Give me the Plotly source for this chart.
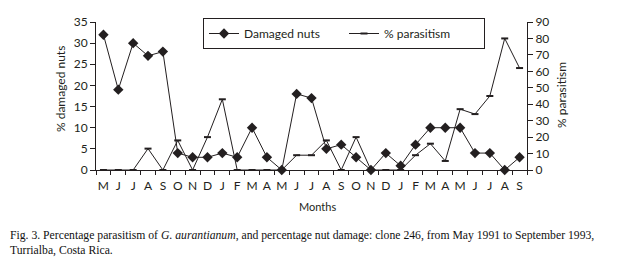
import plotly.graph_objects as go

months = ["M","J","J","A","S","O","N","D",
          "J","F","M","A","M","J","J","A","S","O","N","D",
          "J","F","M","A","M","J","J","A","S"]
damaged_nuts = [32,19,30,27,28,4,3,3,4,3,10,3,0,18,17,5,6,3,0,4,1,6,10,10,10,4,4,0,3]
parasitism = [0,0,0,13,0,18,0,20,43,0,0,0,0,9,9,18,0,20,0,0,0,9,16,5.5,37,34,45,80,62]

x_idx = list(range(len(months)))

W, H = 620, 261
OFF = 8  # page body margin shifts the figure by 8px
L, R, T, B = 96 - OFF, 527 - OFF, 22 - OFF, 170 - OFF
def px(xp): return (xp - OFF - L) / (R - L)
def py(yp): return (B - (yp - OFF)) / (B - T)

INK = "#231f20"
FONT = "Lato"

fig = go.Figure()
fig.add_trace(go.Scatter(
    x=x_idx, y=damaged_nuts, name="Damaged nuts", mode="lines+markers",
    line=dict(color=INK, width=1),
    marker=dict(symbol="diamond", size=8, color=INK),
    cliponaxis=False, xaxis="x", yaxis="y"))
fig.add_trace(go.Scatter(
    x=x_idx, y=parasitism, name="% parasitism", mode="lines+markers",
    line=dict(color=INK, width=1),
    marker=dict(symbol="line-ew", size=5, color=INK, line=dict(color=INK, width=2)),
    cliponaxis=False, xaxis="x", yaxis="y2"))

fig.update_layout(
    width=W, height=H,
    margin=dict(l=L, r=W - R, t=T, b=H - B, pad=0, autoexpand=False),
    paper_bgcolor="white", plot_bgcolor="white",
    font=dict(family=FONT, size=12, color=INK),
    showlegend=True,
    legend=dict(orientation="h", xref="container", yref="container",
                x=(203 - OFF) / W, y=1 - (18 - OFF) / H,
                xanchor="left", yanchor="top",
                bordercolor=INK, borderwidth=1, font=dict(size=12, family=FONT),
                entrywidth=95, entrywidthmode="pixels", itemwidth=30,
                bgcolor="white"),
    xaxis=dict(range=[-0.5, len(months) - 0.5], tickvals=x_idx, ticktext=months,
               ticks="", showline=True, linecolor=INK, linewidth=1,
               showgrid=False, zeroline=False, ticklabelstandoff=5,
               minor=dict(tick0=-0.5, dtick=1, ticks="outside", ticklen=4,
                          tickcolor=INK, tickwidth=1, showgrid=False),
               tickfont=dict(size=12)),
    xaxis2=dict(overlaying="x", anchor="y", side="bottom", range=[-0.5, len(months) - 0.5],
                tickvals=[i - 0.5 for i in range(len(months) + 1)],
                ticks="inside", ticklen=4, tickcolor=INK, tickwidth=1,
                showticklabels=False, showline=False, showgrid=False, zeroline=False),
    yaxis=dict(range=[0, 35], dtick=5, ticks="outside", ticklen=5, tickcolor=INK,
               showline=True, linecolor=INK, linewidth=1, showgrid=False, zeroline=False,
               tickfont=dict(size=12)),
    yaxis2=dict(range=[0, 90], dtick=10, overlaying="y", side="right", anchor="x",
                ticks="outside", ticklen=5, tickcolor=INK,
                showline=True, linecolor=INK, linewidth=1, showgrid=False, zeroline=False,
                tickfont=dict(size=12)),
)

fig.add_annotation(text="% damaged nuts", textangle=-90, x=px(60), y=py(89),
                   xref="paper", yref="paper", xanchor="center", yanchor="middle",
                   showarrow=False, font=dict(size=12, family=FONT))
fig.add_annotation(text="% parasitism", textangle=-90, x=px(561), y=py(95),
                   xref="paper", yref="paper", xanchor="center", yanchor="middle",
                   showarrow=False, font=dict(size=12, family=FONT))
fig.add_annotation(text="Months", x=px(317), y=py(206),
                   xref="paper", yref="paper", xanchor="center", yanchor="middle",
                   showarrow=False, font=dict(size=11, family=FONT))
fig.add_annotation(
    text="Fig. 3. Percentage parasitism of <i>G. aurantianum</i>, and percentage nut damage: clone 246, from May 1991 to September 1993,<br>Turrialba, Costa Rica.",
    x=px(8), y=py(227), xref="paper", yref="paper", xanchor="left", yanchor="top",
    align="left", showarrow=False,
    font=dict(size=11.7, family="Liberation Serif", color="#111"))

fig.write_html("out.html")
